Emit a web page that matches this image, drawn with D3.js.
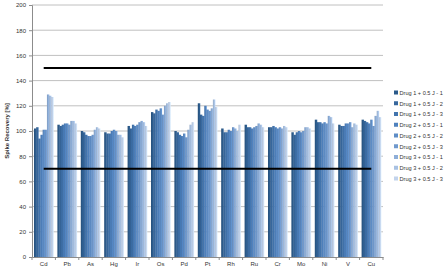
<!DOCTYPE html>
<html>
<head>
<meta charset="utf-8">
<script src="https://cdn.jsdelivr.net/npm/d3@7"></script>
<style>
  body { margin: 0; background: #fff; }
  svg { display: block; font-family: "Liberation Sans", Arial, sans-serif; }
</style>
</head>
<body>
<div id="chart"></div>
<script>
const elements = ["Cd", "Pb", "As", "Hg", "Ir", "Os", "Pd", "Pt", "Rh", "Ru", "Cr", "Mo", "Ni", "V", "Cu"];
const seriesNames = [
  "Drug 1 + 0.5 J - 1", "Drug 1 + 0.5 J - 2", "Drug 1 + 0.5 J - 3",
  "Drug 2 + 0.5 J - 1", "Drug 2 + 0.5 J - 2", "Drug 2 + 0.5 J - 3",
  "Drug 3 + 0.5 J - 1", "Drug 3 + 0.5 J - 2", "Drug 3 + 0.5 J - 3"
];
// one row per element, one value per series
const recovery = [
  [102, 103, 94, 97, 101, 101, 129, 128, 127],
  [105, 104, 105, 106, 106, 105, 108, 108, 106],
  [100, 99, 97, 96, 96, 97, 101, 103, 102],
  [99, 98, 98, 100, 101, 100, 97, 97, 95],
  [104, 102, 105, 104, 105, 107, 108, 107, 104],
  [115, 114, 117, 116, 118, 113, 120, 122, 123],
  [100, 99, 97, 96, 98, 95, 101, 105, 107],
  [122, 113, 112, 120, 117, 116, 118, 125, 119],
  [102, 99, 99, 101, 100, 103, 102, 100, 105],
  [105, 103, 103, 102, 103, 104, 106, 105, 103],
  [103, 103, 104, 103, 102, 103, 102, 104, 103],
  [99, 97, 99, 100, 99, 100, 103, 103, 102],
  [109, 107, 107, 106, 107, 106, 112, 111, 106],
  [105, 104, 104, 106, 106, 107, 103, 106, 105],
  [109, 108, 107, 106, 109, 104, 112, 116, 111]
];
const limits = [150, 70];
const yTicks = [0, 20, 40, 60, 80, 100, 120, 140, 160, 180, 200];
const colors = ["#2b5a8a", "#37679c", "#4274ad", "#4f81bd", "#5e8dc6", "#7099cd", "#8eaed8", "#a8c1e2", "#c2d3ec"];

const W = 446, H = 270;
const margin = { top: 5, right: 63, bottom: 13, left: 32 };
const pw = W - margin.left - margin.right;
const ph = H - margin.top - margin.bottom;

const svg = d3.select("#chart").append("svg").attr("width", W).attr("height", H);

const defs = svg.append("defs");
colors.forEach((c, i) => {
  const g = defs.append("linearGradient").attr("id", "grad" + i)
    .attr("x1", "0%").attr("x2", "100%").attr("y1", "0%").attr("y2", "0%");
  g.append("stop").attr("offset", "0%").attr("stop-color", d3.color(c).darker(0.35));
  g.append("stop").attr("offset", "55%").attr("stop-color", c);
  g.append("stop").attr("offset", "100%").attr("stop-color", d3.color(c).brighter(0.35));
});

const g = svg.append("g").attr("transform", `translate(${margin.left},${margin.top})`);

const x0 = d3.scaleBand().domain(elements).range([0, pw]).paddingInner(0.17).paddingOuter(0.085);
const x1 = d3.scaleBand().domain(seriesNames).range([0, x0.bandwidth()]).padding(0);
const y = d3.scaleLinear().domain([0, 200]).range([ph, 0]);

// gridlines
g.append("g").selectAll("line").data(yTicks.filter(d => d > 0)).join("line")
  .attr("x1", 0).attr("x2", pw)
  .attr("y1", d => y(d)).attr("y2", d => y(d))
  .attr("stroke", "#c0c0c0").attr("stroke-width", 1);

// bars
const groups = g.append("g").selectAll("g").data(elements).join("g")
  .attr("transform", d => `translate(${x0(d)},0)`);
groups.selectAll("rect")
  .data((d, i) => recovery[i].map((v, j) => ({ s: seriesNames[j], j, v })))
  .join("rect")
  .attr("x", d => x1(d.s))
  .attr("width", x1.bandwidth() + 0.3)
  .attr("y", d => y(d.v))
  .attr("height", d => y(0) - y(d.v))
  .attr("fill", d => `url(#grad${d.j})`);

// limit lines
const xStart = x0(elements[0]) + x0.bandwidth() / 2;
const xEnd = x0(elements[elements.length - 1]) + x0.bandwidth() / 2;
g.append("g").selectAll("line").data(limits).join("line")
  .attr("x1", xStart).attr("x2", xEnd)
  .attr("y1", d => y(d)).attr("y2", d => y(d))
  .attr("stroke", "#000").attr("stroke-width", 2);

// y axis
const yAxis = g.append("g").call(d3.axisLeft(y).tickValues(yTicks).tickSize(3).tickPadding(3));
yAxis.select(".domain").attr("stroke", "#8c8c8c");
yAxis.selectAll(".tick line").attr("stroke", "#8c8c8c");
yAxis.selectAll("text").attr("font-size", 6).attr("fill", "#333");

// x axis
const xAxis = g.append("g").attr("transform", `translate(0,${ph})`)
  .call(d3.axisBottom(x0).tickSize(0).tickPadding(5));
xAxis.select(".domain").attr("stroke", "#8c8c8c");
xAxis.selectAll("text").attr("font-size", 6).attr("fill", "#333");
const step = x0.step();
xAxis.append("g").selectAll("line").data(d3.range(elements.length + 1)).join("line")
  .attr("x1", i => i * step).attr("x2", i => i * step)
  .attr("y1", 0).attr("y2", 3).attr("stroke", "#8c8c8c");

// y label
svg.append("text")
  .attr("transform", `translate(9,${margin.top + ph / 2}) rotate(-90)`)
  .attr("text-anchor", "middle")
  .attr("font-size", 6).attr("font-weight", "bold").attr("fill", "#333")
  .text("Spike Recovery [%]");

// legend
const legend = svg.append("g").attr("transform", "translate(394,93)");
const items = legend.selectAll("g").data(seriesNames).join("g")
  .attr("transform", (d, i) => `translate(0,${i * 10.75})`);
items.append("rect").attr("x", 0).attr("y", -2.5).attr("width", 4).attr("height", 4)
  .attr("fill", (d, i) => colors[i]);
items.append("text").attr("x", 5.5).attr("y", 0).attr("dy", "0.35em")
  .attr("font-size", 5.6).attr("fill", "#333").text(d => d);
</script>
</body>
</html>
